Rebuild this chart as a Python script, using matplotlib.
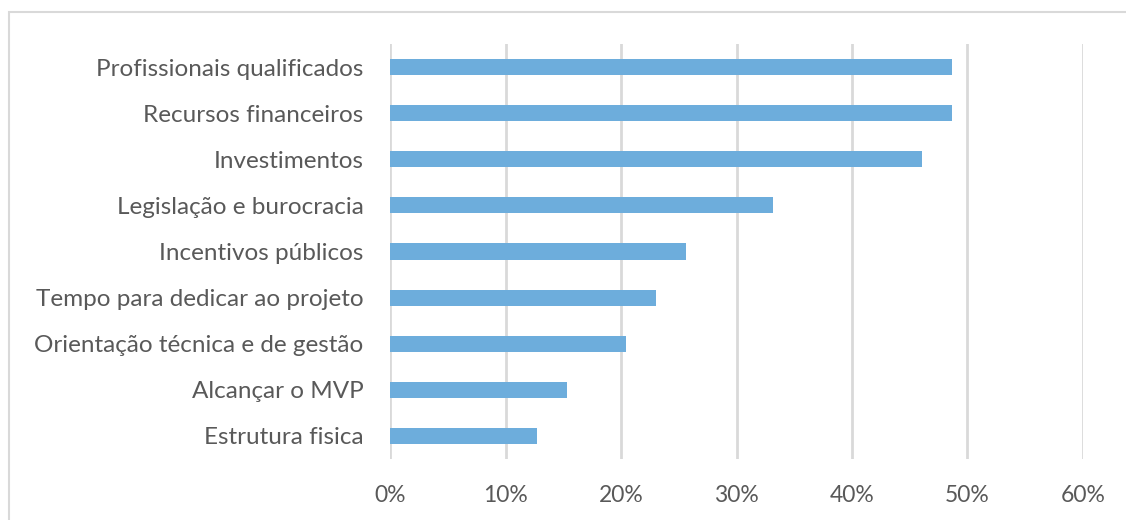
import numpy as np
import matplotlib
matplotlib.use("Agg")
import matplotlib.pyplot as plt
from matplotlib.patches import Rectangle
from matplotlib.ticker import FuncFormatter

categorias = [
    "Profissionais qualificados",
    "Recursos financeiros",
    "Investimentos",
    "Legislação e burocracia",
    "Incentivos públicos",
    "Tempo para dedicar ao projeto",
    "Orientação técnica e de gestão",
    "Alcançar o MVP",
    "Estrutura fisica",
]
percentuais = [48.7, 48.7, 46.1, 33.2, 25.6, 23.0, 20.4, 15.3, 12.7]
ticks_x = [0, 10, 20, 30, 40, 50, 60]

plt.rcParams['font.family'] = ['Lato', 'DejaVu Sans']

fig = plt.figure(figsize=(11.26, 5.2), dpi=100)
ax = fig.add_axes([0.3464, 0.1173, 0.6154, 0.7981])

# moldura clara em volta do gráfico
fig.patches.append(Rectangle((0.008, -0.05), 1.2, 1.027, transform=fig.transFigure,
                             fill=False, edgecolor='#D9D9D9', linewidth=1.5))

y = np.arange(len(categorias))
ax.barh(y, percentuais, height=0.35, color='#6DADDC', zorder=3)

ax.set_xlim(0, 60)
ax.set_ylim(len(categorias) - 0.5, -0.5)
ax.set_xticks(ticks_x)
ax.xaxis.set_major_formatter(FuncFormatter(lambda v, p: f"{v:.0f}%"))
ax.set_yticks(y)
ax.set_yticklabels(categorias)
ax.grid(axis='x', color='#D9D9D9', linewidth=2, zorder=0)
for s in ax.spines.values():
    s.set_visible(False)
ax.tick_params(axis='both', length=0, colors='#595959')
ax.tick_params(axis='x', labelsize=16.5, pad=19)
ax.tick_params(axis='y', labelsize=17.5, pad=19)

fig.savefig("out.png", dpi=100)
